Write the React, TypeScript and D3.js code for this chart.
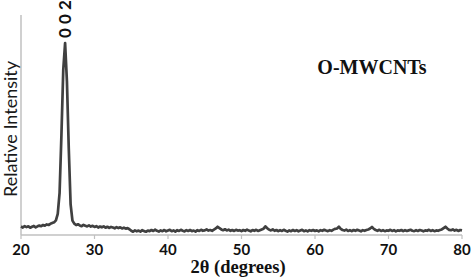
import React from 'react';
import * as d3 from 'd3';

// XRD pattern of O-MWCNTs, 2θ from 20 to 80 in 0.25 degree steps
const thetaStart = 20;
const thetaStep = 0.25;
const intensity: number[] = [
  // 20.00 - 23.75
  4.4, 3.9, 4.6, 4.1, 4.5, 3.8, 4.3, 4.7, 4.0, 4.5, 4.9, 4.6, 5.2, 4.9, 5.5, 5.2,
  // 24.00 - 27.75 (002 peak)
  5.8, 6.2, 6.6, 7.6, 11, 22, 52, 86, 100, 80, 45, 16, 7.5, 5.9, 5.2, 5.6,
  // 28.00 - 34.75
  5.0, 4.6, 5.3, 4.8, 4.5, 5.0, 4.4, 4.8, 4.2, 4.6, 3.9, 4.4, 4.0, 4.5, 3.8, 4.3,
  3.7, 4.2, 3.9, 3.5, 4.1, 3.6, 4.0, 3.4, 3.8, 3.3, 3.6, 3.0,
  // 35.00 - 80.00
  2.2, 1.7, 2.4, 1.9, 2.3, 1.8, 2.5, 2.0, 1.7, 2.3, 2.0, 2.6, 2.1, 2.8, 2.2, 1.8,
  2.4, 2.0, 2.6, 1.9, 2.3, 2.7, 2.0, 2.4, 1.8, 2.5, 2.1, 2.7, 2.2, 1.9, 2.5, 2.1,
  2.6, 2.0, 2.3, 1.8, 2.5, 2.1, 2.7, 2.2, 2.4, 2.9, 2.3, 2.6, 2.2, 2.8, 3.4, 4.3,
  3.6, 2.9, 2.5, 3.0, 2.4, 2.8, 2.2, 2.6, 2.1, 2.7, 2.3, 2.5, 2.0, 2.6, 2.2, 2.8,
  2.3, 1.9, 2.6, 2.2, 2.7, 2.1, 2.5, 2.9, 3.3, 4.5, 3.5, 2.8, 2.4, 2.9, 2.2, 2.6,
  2.0, 2.5, 2.1, 2.7, 2.2, 1.8, 2.4, 2.0, 2.6, 2.1, 2.5, 1.9, 2.3, 2.7, 2.0, 2.4,
  1.9, 2.5, 2.2, 2.6, 2.1, 2.4, 1.9, 2.5, 2.2, 2.7, 2.3, 2.0, 2.5, 2.2, 2.8, 3.2,
  3.4, 4.3, 3.2, 2.6, 2.3, 2.8, 2.1, 2.5, 2.0, 2.6, 2.2, 2.7, 2.3, 1.9, 2.5, 2.2,
  2.6, 2.9, 3.4, 4.2, 3.2, 2.6, 2.2, 2.7, 2.1, 2.5, 2.0, 2.4, 2.2, 2.7, 2.1, 2.5,
  1.9, 2.4, 2.2, 2.6, 2.0, 2.5, 2.1, 2.4, 2.7, 2.2, 2.0, 2.5, 2.1, 2.6, 2.3, 1.9,
  2.4, 2.2, 2.7, 2.1, 2.5, 2.0, 2.4, 2.2, 2.6, 2.9, 3.6, 4.3, 3.4, 2.7, 2.5, 2.9,
  2.3, 2.7, 2.1, 2.6, 2.4,
];
const xTicks = [20, 30, 40, 50, 60, 70, 80];

const W = 472, H = 277;
const margin = { left: 21, right: 10, top: 43, bottom: 42 };
const axisTop = 15;

export default function App() {
  const x = d3.scaleLinear().domain([20, 80]).range([margin.left, W - margin.right]);
  const y = d3.scaleLinear().domain([0, 100]).range([H - margin.bottom, margin.top]);
  const pts = intensity.map((v, i) => [thetaStart + i * thetaStep, v] as [number, number]);
  const line = d3.line<[number, number]>().x(d => x(d[0])).y(d => y(d[1]));
  const y0 = y(0);
  const peakX = x(26);

  return (
    <svg width={W} height={H} style={{ position: 'absolute', left: 0, top: 0, background: '#fff' }}>
      {/* axes */}
      <line x1={x(20)} x2={x(20)} y1={axisTop} y2={y0} stroke="#c0c0c0" strokeWidth={1.5} />
      <line x1={x(20)} x2={x(80)} y1={y0} y2={y0} stroke="#c0c0c0" strokeWidth={1.5} />
      {xTicks.map(t => (
        <g key={t}>
          <line x1={x(t)} x2={x(t)} y1={y0} y2={y0 + 4} stroke="#c0c0c0" strokeWidth={1.2} />
          <text x={x(t)} y={255} textAnchor="middle" fontFamily="Lato" fontWeight="bold" fontSize={15} fill="#111">{t}</text>
        </g>
      ))}
      <path d={line(pts) ?? ''} fill="none" stroke="#404040" strokeWidth={2.7} strokeLinejoin="round" />
      <text transform={`translate(${peakX + 6},38) rotate(-90)`} fontFamily="Lato" fontWeight="bold" fontSize={17} fill="#111">0 0 2</text>
      <text x={372} y={74} textAnchor="middle" fontFamily="Liberation Serif" fontWeight="bold" fontSize={20} fill="#111">O-MWCNTs</text>
      <text transform="translate(17,129) rotate(-90)" textAnchor="middle" fontFamily="Lato" fontSize={18} fill="#1a1a1a">Relative Intensity</text>
      <text x={238} y={273} textAnchor="middle" fontFamily="Liberation Serif" fontWeight="bold" fontSize={18.5} fill="#111">2θ (degrees)</text>
    </svg>
  );
}
